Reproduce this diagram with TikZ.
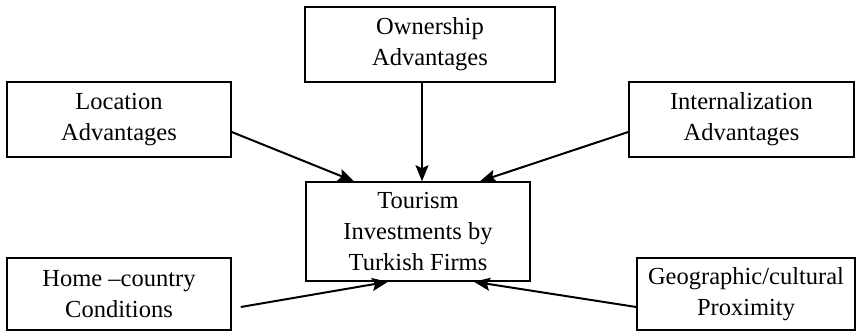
\documentclass[tikz,border=0pt]{standalone}
\usepackage{fontspec}
\setmainfont{Liberation Serif}
\usetikzlibrary{arrows.meta,calc}

\begin{document}
\begin{tikzpicture}[x=1pt, y=-1pt,
	box/.style={draw, line width=1.5pt, align=center, inner sep=0pt,
		font=\fontsize{24.5}{31}\selectfont},
	link/.style={-{Stealth[length=16pt, width=13pt, inset=3pt]}, line width=2pt}]

	\useasboundingbox (0, 0) rectangle (857, 332);

	\node [box, minimum width=250pt, minimum height=75pt] (own) at (430, 44.5) {Ownership\\Advantages};
	\node [box, minimum width=224pt, minimum height=75pt] (loc) at (119, 119.5) {Location\\Advantages};
	\node [box, minimum width=225pt, minimum height=75pt] (int) at (741.5, 119.5) {Internalization\\Advantages};
	\node [box, minimum width=224pt, minimum height=99pt] (tour) at (418, 231.5) {Tourism\\Investments by\\Turkish Firms};
	\node [box, minimum width=224pt, minimum height=72pt] (home) at (119, 294) {Home --country\\Conditions};
	\node [box, minimum width=218pt, minimum height=72pt] (geo) at (746, 294) {Geographic/cultural\\Proximity};

	\draw [link] ([xshift=-8pt]own.south) -- ([xshift=4pt]tour.north);
	\draw [link] ([yshift=-12.5pt]loc.east) -- ([xshift=-64pt]tour.north);
	\draw [link] ([yshift=-12.5pt]int.west) -- ([xshift=62pt]tour.north);
	\draw [link] ([xshift=9pt, yshift=-13pt]home.east) -- ([xshift=-30pt]tour.south);
	\draw [link] ([yshift=-13pt]geo.west) -- ([xshift=56pt]tour.south);

\end{tikzpicture}
\end{document}
